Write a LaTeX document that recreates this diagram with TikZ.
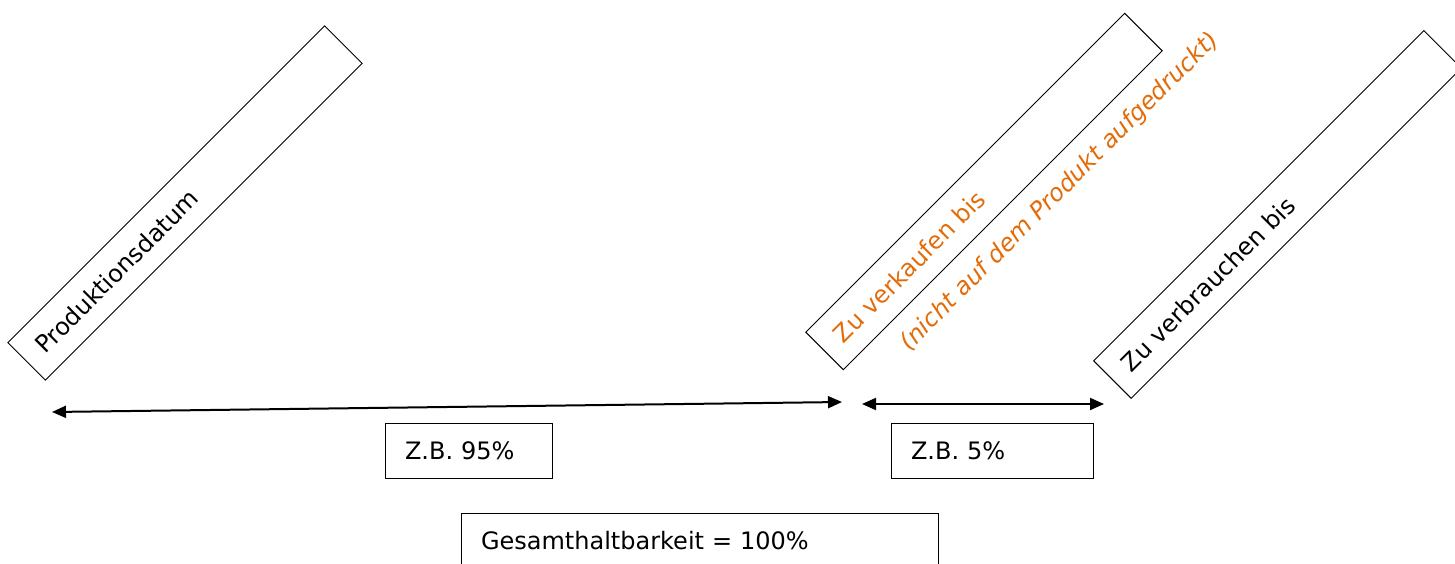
\documentclass[tikz,border=0pt]{standalone}
\usepackage{fontspec}
\setmainfont{DejaVu Sans}
\usepackage{xcolor}
\usetikzlibrary{arrows.meta, positioning, calc}
\definecolor{datumorange}{HTML}{E36C09}

\begin{document}
\begin{tikzpicture}[x=0.5pt, y=0.5pt, font=\fontsize{12}{14}\selectfont,
    datebox/.style={draw, rotate=45, minimum height=26.5pt, inner xsep=9pt, align=left, line width=0.5pt},
    pctbox/.style={draw, minimum height=27.5pt, inner xsep=10pt, align=left, line width=0.5pt},
    span/.style={line width=1pt, {Triangle[length=7pt,width=6pt]}-{Triangle[length=7pt,width=6pt]}}]
            \useasboundingbox (0,0) rectangle (1455,563);
            \node[datebox, text width=206pt] (P) at (185,360) {Produktionsdatum};
            \node[datebox, text width=207.5pt, text=datumorange] (V) at (984,371.5) {Zu verkaufen bis};
            \node[datebox, text width=215.5pt] (B) at (1277.5,348.5) {Zu verbrauchen bis};
            \node[rotate=45, text=datumorange, font=\fontsize{12}{14}\selectfont\itshape] (H) at (1060,371) {(nicht auf dem Produkt aufgedruckt)};
            \coordinate (P0) at (52,151);
            \coordinate (V0) at (842,161);
            \coordinate (V1) at (862,159);
            \coordinate (B0) at (1104,159);
            \draw[span] (P0)--(V0);
            \draw[span] (V1)--(B0);
            \node[pctbox, text width=63.5pt] (X) at (468.5,112.5) {Z.B. 95\%};
            \node[pctbox, text width=81pt] (Y) at (992,112.5) {Z.B. 5\%};
            \node[pctbox, text width=218.5pt] (G) at (699.5,22.5) {Gesamthaltbarkeit = 100\%};
        \end{tikzpicture}
\end{document}
